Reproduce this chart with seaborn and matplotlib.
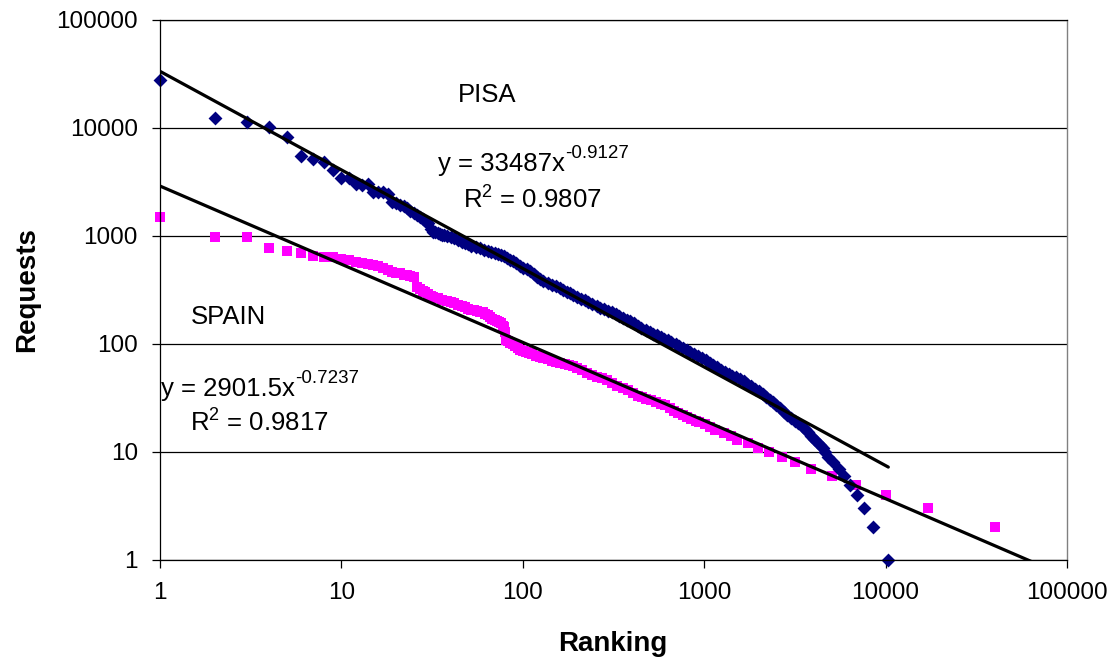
import numpy as np
import pandas as pd
import matplotlib
matplotlib.use("Agg")
import matplotlib.pyplot as plt
import seaborn as sns

# rank / number of requests
pisa_rank = [1, 2, 3, 4, 5, 6, 7, 8, 9, 10, 11, 12, 13, 14, 15, 16, 17, 18, 19, 20,
             21, 22, 23, 24, 25, 26, 27, 28, 29, 30, 31, 32, 33, 34, 35, 36, 37, 38,
             40, 42, 44, 46, 48, 50, 52, 55, 58, 61, 64, 67, 70, 73, 76, 79, 82, 85,
             88, 92, 96, 100, 105, 110, 115, 120, 125, 130, 137, 145, 152, 160, 167,
             175, 182, 190, 200, 210, 220, 230, 242, 255, 267, 280, 295, 310, 325, 340,
             357, 375, 392, 410, 430, 450, 475, 500, 525, 550, 575, 600, 630, 660, 695,
             730, 765, 800, 840, 880, 925, 970, 1020, 1070, 1125, 1180, 1240, 1300,
             1365, 1430, 1500, 1570, 1650, 1730, 1815, 1900, 2000, 2100, 2200, 2300,
             2400, 2500, 2620, 2750, 2870, 3000, 3150, 3300, 3450, 3600, 3750, 3900,
             4050, 4200, 4350, 4500, 4650, 4800, 5140, 5530, 5900, 6380, 6940, 7570,
             8500, 10350]
pisa_requests = [27800, 12300, 11300, 10200, 8250, 5500, 5150, 4850, 4080, 3440, 3420,
                 3000, 2980, 3000, 2530, 2530, 2560, 2450, 2080, 2000, 1950, 1880, 1800,
                 1700, 1640, 1560, 1500, 1430, 1370, 1320, 1150, 1100, 1080, 1060, 1050,
                 1030, 1015, 1000, 975, 950, 910, 885, 860, 835, 815, 795, 770, 745, 725,
                 705, 690, 680, 665, 650, 625, 605, 585, 560, 530, 510, 490, 470, 445,
                 420, 400, 385, 370, 355, 342, 330, 318, 305, 295, 285, 273, 262, 253,
                 246, 235, 225, 217, 210, 203, 196, 189, 182, 175, 168, 162, 156, 148,
                 140, 135, 130, 125, 120, 116, 112, 108, 104, 100, 96, 92, 88, 84.5, 81,
                 77.5, 74, 70.5, 67, 64, 61, 58, 55, 52.5, 50.5, 49, 47, 45, 42.5, 40.5,
                 38.5, 36.5, 34.5, 32.5, 30.5, 29, 27.5, 25.5, 23.5, 22, 20.5, 19.4,
                 18.4, 17.4, 16.5, 15.2, 14, 13.2, 12.5, 11.7, 11, 10, 9, 8, 7, 6, 5, 4,
                 3, 2, 1]

spain_rank = [1, 2, 3, 4, 5, 6, 7, 8, 9, 10, 11, 12, 13, 14, 15, 16, 17, 18, 19, 20,
              21, 22, 23, 24, 25, 26, 27, 28, 29, 30, 31, 32, 34, 36, 38, 40, 42, 44,
              46, 48, 50, 52, 54, 56, 58, 60, 62, 64, 66, 68, 70, 72, 74, 76, 78, 79,
              80, 81, 83, 85, 88, 91, 94, 97, 100, 104, 108, 113, 118, 124, 130, 137,
              145, 152, 160, 170, 180, 190, 200, 212, 225, 240, 255, 272, 290, 310, 330,
              355, 380, 405, 430, 455, 480, 510, 540, 575, 610, 645, 680, 720, 760, 805,
              850, 900, 940, 1010, 1070, 1140, 1290, 1400, 1510, 1750, 1990, 2270, 2690,
              3150, 3870, 5060, 6900, 10100, 17150, 40300]
spain_requests = [1500, 980, 970, 770, 730, 690, 655, 645, 635, 615, 600, 575, 565, 550,
                  535, 525, 510, 480, 465, 455, 450, 440, 432, 425, 420, 340, 325, 310,
                  300, 290, 280, 274, 266, 258, 250, 245, 238, 232, 225, 218, 212, 208,
                  205, 202, 199, 196, 190, 185, 178, 172, 168, 165, 160, 155, 148, 143,
                  128, 110, 106, 103, 100, 95, 91, 88, 86, 84, 82, 80, 78, 76, 74, 72, 70,
                  68.5, 67, 65.5, 64, 62, 60, 57, 54, 52, 50, 48, 46, 43.5, 41, 39, 37.5,
                  35, 33, 32, 31, 30, 29, 28, 27, 25.5, 24, 23, 22, 21, 20, 19.5, 19, 18,
                  17, 16, 15, 14, 13, 12, 11, 10, 9, 8, 7, 6, 5, 4, 3, 2]

# power-law trendlines as printed on the chart: coefficient, exponent, R^2, last rank
pisa_fit = (33487, -0.9127, 0.9807, 10350)
spain_fit = (2901.5, -0.7237, 0.9817, 100000)

decade_ticks = [1, 10, 100, 1000, 10000, 100000]
decade_labels = ["1", "10", "100", "1000", "10000", "100000"]

sns.set_theme(style="white")
plt.rcParams["font.family"] = ["Liberation Sans", "DejaVu Sans"]
plt.rcParams["mathtext.fontset"] = "custom"
plt.rcParams["mathtext.rm"] = "Liberation Sans"
plt.rcParams["mathtext.it"] = "Liberation Sans:italic"
plt.rcParams["mathtext.bf"] = "Liberation Sans:bold"

W, H = 1117, 662
fig = plt.figure(figsize=(W / 100, H / 100), dpi=100)
fig.patch.set_facecolor("white")
ax = fig.add_axes([160 / W, 1 - 560 / H, 907 / W, 540 / H])

pisa = pd.DataFrame({"rank": pisa_rank, "requests": pisa_requests})
spain = pd.DataFrame({"rank": spain_rank, "requests": spain_requests})

sns.scatterplot(data=spain, x="rank", y="requests", marker="s", s=56, color="#FF00FF",
                linewidth=0, ax=ax, zorder=2, clip_on=False)
sns.scatterplot(data=pisa, x="rank", y="requests", marker="D", s=50, color="#000080",
                linewidth=0, ax=ax, zorder=2.5, clip_on=False)

for a, b, r2, end in (pisa_fit, spain_fit):
    xs = np.logspace(0, np.log10(end), 200)
    sns.lineplot(x=xs, y=a * xs ** b, color="black", linewidth=2.3, ax=ax, zorder=3,
                 sort=False, estimator=None)

ax.set_xscale("log")
ax.set_yscale("log")
ax.set_xlim(1, 100000)
ax.set_ylim(1, 100000)
ax.set_xticks(decade_ticks)
ax.set_xticklabels(decade_labels)
ax.set_yticks(decade_ticks)
ax.set_yticklabels(decade_labels)
ax.minorticks_off()
ax.set_xlabel("")
ax.set_ylabel("")

ax.set_axisbelow(True)
ax.yaxis.grid(True, color="black", linewidth=0.9)
ax.xaxis.grid(False)
ax.tick_params(axis="both", which="major", bottom=True, left=True, direction="out",
               length=6, width=0.9, color="black", labelsize=17.5, pad=10,
               labelcolor="black")
for side in ("left", "bottom", "top"):
    ax.spines[side].set_color("black")
    ax.spines[side].set_linewidth(0.9)
ax.spines["right"].set_color("#808080")
ax.spines["right"].set_linewidth(1.0)


def px(x, y):
    return (x - 160) / 907, (560 - y) / 540


txt = dict(transform=ax.transAxes, fontsize=18.5, color="black", va="baseline", ha="left")


def fit_label(x, y, fit):
    # Excel-style "y = ax^b" with the exponent as a raised, smaller text
    main = ax.text(*px(x, y), f"y = {fit[0]:g}x", **txt)
    ax.annotate(f"{fit[1]}", xy=(1, 1), xycoords=main, xytext=(0.5, -1),
                textcoords="offset points", fontsize=13.5, ha="left", va="center",
                color="black")


ax.text(*px(458, 102), "PISA", **txt)
fit_label(438, 171.5, pisa_fit)
ax.text(*px(463, 209), f"R$^2$ = {pisa_fit[2]}", **txt)
ax.text(*px(191, 324), "SPAIN", **txt)
fit_label(161, 396, spain_fit)
ax.text(*px(190, 432), f"R$^2$ = {spain_fit[2]}", **txt)

fig.text(27 / W, 1 - 290 / H, "Requests", rotation=90, ha="center", va="center",
         fontsize=20, fontweight="bold", color="black")
fig.text(613 / W, 1 - 644 / H, "Ranking", ha="center", va="center",
         fontsize=20, fontweight="bold", color="black")

fig.savefig("out.png", dpi=100, facecolor="white")
plt.close(fig)
